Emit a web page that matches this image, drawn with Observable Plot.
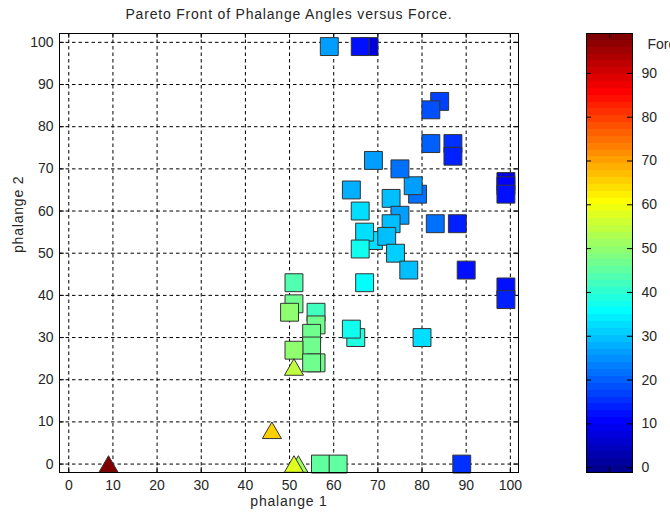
<!DOCTYPE html>
<html>
<head>
<meta charset="utf-8">
<script src="https://cdn.jsdelivr.net/npm/d3@7"></script>
<script src="https://cdn.jsdelivr.net/npm/@observablehq/plot@0.6"></script>
<style>
  html, body { margin: 0; padding: 0; background: #fff; }
  #wrap { position: relative; width: 670px; height: 513px; overflow: hidden; background: #fff; }
  #wrap svg { position: absolute; top: 0; overflow: visible; }
</style>
</head>
<body>
<div id="wrap"></div>
<script>
// ---- data ----
const titleText = "Pareto Front of Phalange Angles versus Force.";
const xLabel = "phalange 1";
const yLabel = "phalange 2";
const cbLabel = "Force";
const axisTicks = [0, 10, 20, 30, 40, 50, 60, 70, 80, 90, 100];
const cbTicks = [0, 10, 20, 30, 40, 50, 60, 70, 80, 90];

// squares (draw order matters: later on top)
const sqX = [59, 68, 66, 84, 82, 82, 87, 87, 99, 99, 99, 83, 88, 90, 99, 99, 80, 79, 78, 75, 69, 64, 73, 66, 75, 73, 69, 67, 72, 66, 74, 77, 51, 67, 51, 50, 56, 56, 55, 55, 51, 56, 55, 65, 64, 57, 61, 89];
const sqY = [99, 99, 99, 86, 84, 76, 76, 73, 67, 66, 64, 57, 57, 46, 42, 39, 30, 64, 66, 70, 72, 65, 63, 60, 59, 57, 53, 55, 54, 51, 50, 46, 43, 43, 38, 36, 36, 33, 31, 28, 27, 24, 24, 30, 32, 0, 0, 0];
const sqF = [27, 8, 12, 17, 18, 20, 15, 14, 8, 10, 12, 22, 13, 12, 12, 14, 33, 22, 27, 21, 27, 28, 29, 32, 27, 29, 32, 33, 30, 38, 31, 29, 44, 35, 47, 50, 42, 46, 46, 46, 50, 46, 46, 39, 38, 45, 45, 15];
// triangles
const triX = [9, 46, 52, 51, 51];
const triY = [0, 8, 0, 0, 23];
const triF = [99, 65, 52, 58, 54];

// ---- MATLAB jet(64) ----
function jet64(i) {
  const n = 16, u = [];
  for (let k = 1; k <= n; k++) u.push(k / n);
  for (let k = 0; k < n - 1; k++) u.push(1);
  for (let k = n; k >= 1; k--) u.push(k / n);
  const row = i + 1;
  const val = k => (k >= 1 && k <= 47) ? u[k - 1] : 0;
  const c = v => Math.round(v * 255);
  return `rgb(${c(val(row - 24))},${c(val(row - 8))},${c(val(row + 8))})`;
}
const cMin = -1.1, cMax = 99.1;
const colorScale = {type: "linear", domain: [cMin, cMax], interpolate: t => jet64(Math.max(0, Math.min(63, Math.floor(t * 64))))};

const squares = sqX.map((x, i) => ({x, y: sqY[i], f: sqF[i]}));
const triangles = triX.map((x, i) => ({x, y: triY[i], f: triF[i]}));

const font = "'Liberation Sans', Arial, sans-serif";
const ink = "#262626";
const xLo = -2.1, xHi = 101.85, yLo = -2.0, yHi = 102.1;

const main = Plot.plot({
  width: 530, height: 513,
  marginLeft: 59, marginRight: 12, marginTop: 33, marginBottom: 41,
  style: {fontFamily: font, fontSize: "14px", color: ink, background: "transparent"},
  x: {domain: [xLo, xHi]},
  y: {domain: [yLo, yHi]},
  color: colorScale,
  marks: [
    Plot.gridX(axisTicks, {stroke: "#000", strokeOpacity: 1, strokeDasharray: "3.5,3"}),
    Plot.gridY(axisTicks, {stroke: "#000", strokeOpacity: 1, strokeDasharray: "3.5,3"}),
    Plot.ruleX(axisTicks, {y1: yLo, y2: yLo + 1.15, stroke: "#000"}),
    Plot.ruleX(axisTicks, {y1: yHi, y2: yHi - 1.15, stroke: "#000"}),
    Plot.ruleY(axisTicks, {x1: xLo, x2: xLo + 1.1, stroke: "#000"}),
    Plot.ruleY(axisTicks, {x1: xHi, x2: xHi - 1.1, stroke: "#000"}),
    Plot.axisX(axisTicks, {anchor: "bottom", tickSize: 0, tickPadding: 8, label: null, fill: ink, fontSize: 14}),
    Plot.axisY(axisTicks, {anchor: "left", tickSize: 0, tickPadding: 6, label: null, fill: ink, fontSize: 14}),
    Plot.dot(squares, {x: "x", y: "y", fill: "f", symbol: "square", r: 10.1, stroke: "#333", strokeWidth: 1}),
    Plot.dot(triangles, {x: "x", y: "y", fill: "f", symbol: "triangle", r: 7.1, dy: 2.7, stroke: "#333", strokeWidth: 1}),
    Plot.frame({stroke: "#000", strokeWidth: 1}),
    Plot.text([titleText], {frameAnchor: "top", dy: -24, fontSize: 14, fill: ink}),
    Plot.text([xLabel], {frameAnchor: "bottom", dy: 33, fontSize: 14, fill: ink}),
    Plot.text([yLabel], {frameAnchor: "left", dx: -41, rotate: -90, fontSize: 14, fill: ink})
  ]
});
main.style.left = "0px";
main.querySelectorAll("text").forEach(t => {
  if ([titleText, xLabel, yLabel].includes(t.textContent)) t.setAttribute("letter-spacing", "0.8");
});

// colorbar
const bands = d3.range(64).map(i => ({
  y1: cMin + i * (cMax - cMin) / 64,
  y2: cMin + (i + 1) * (cMax - cMin) / 64,
  f: cMin + (i + 0.5) * (cMax - cMin) / 64
}));
const cb = Plot.plot({
  width: 110, height: 513,
  marginLeft: 26, marginRight: 38, marginTop: 33, marginBottom: 41,
  style: {fontFamily: font, fontSize: "14px", color: ink, background: "transparent"},
  x: {domain: [0, 1], axis: null},
  y: {domain: [cMin, cMax], axis: null},
  color: colorScale,
  marks: [
    Plot.rect(bands, {x1: 0, x2: 1, y1: "y1", y2: "y2", fill: "f", shapeRendering: "crispEdges"}),
    Plot.ruleY(cbTicks, {x1: 0, x2: 0.11, stroke: "#000"}),
    Plot.ruleY(cbTicks, {x1: 0.89, x2: 1, stroke: "#000"}),
    Plot.ruleX([0.5], {y1: cMax, y2: cMax - 1.1, stroke: "#000"}),
    Plot.ruleX([0.5], {y1: cMin, y2: cMin + 1.1, stroke: "#000"}),
    Plot.axisY(cbTicks, {anchor: "right", tickSize: 0, tickPadding: 9, label: null, fill: ink, fontSize: 14}),
    Plot.frame({stroke: "#000", strokeWidth: 1}),
    Plot.text([cbLabel], {frameAnchor: "top-right", dx: 15, dy: 6, textAnchor: "start", fontSize: 14, fill: ink})
  ]
});
cb.style.left = "560px";

const wrap = document.getElementById("wrap");
wrap.appendChild(main);
wrap.appendChild(cb);
</script>
</body>
</html>
